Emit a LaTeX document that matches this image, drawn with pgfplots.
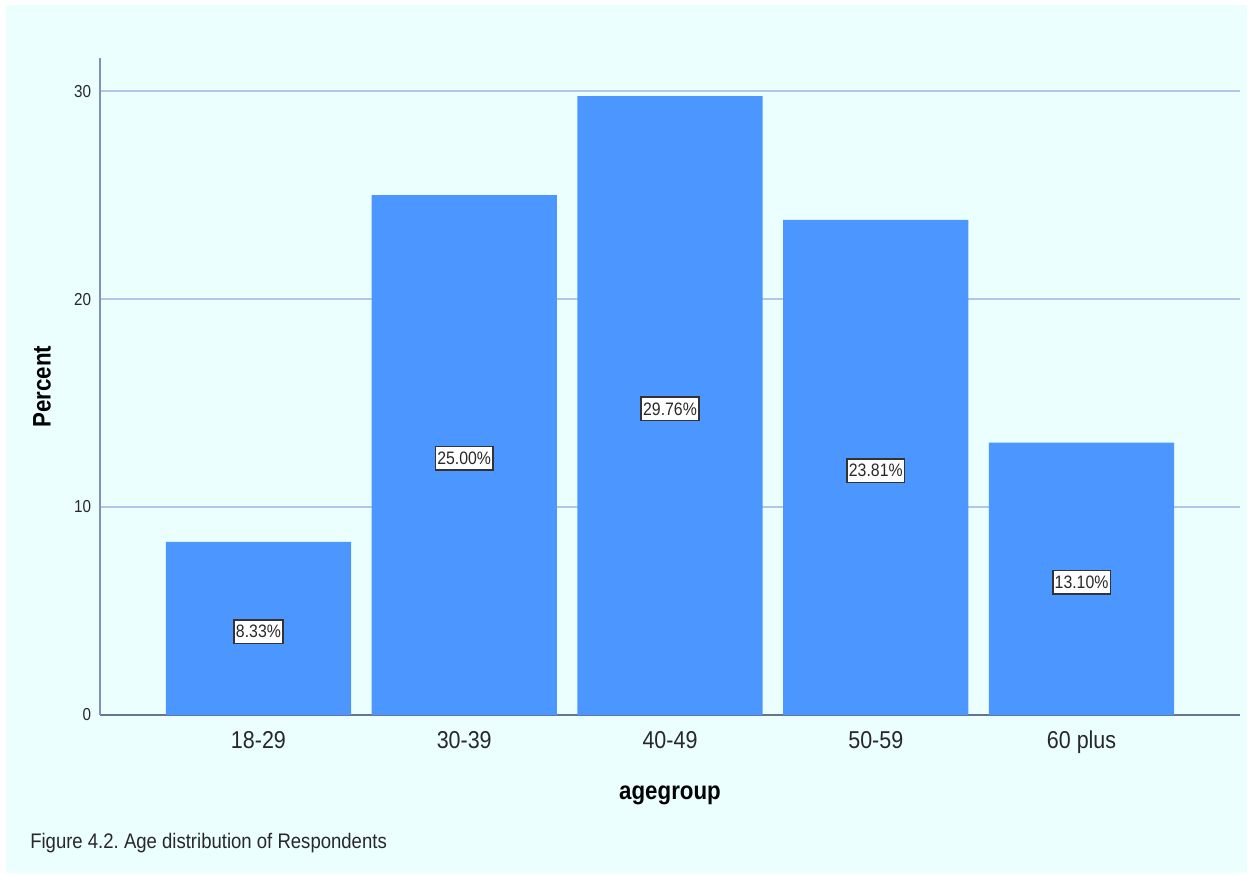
\documentclass[border=0pt]{standalone}
\usepackage{pgfplots}
\pgfplotsset{compat=1.18}
\usepackage{pgfplotstable}
\usepackage{fontspec}
\setmainfont[FakeStretch=0.88]{Liberation Sans}
\frenchspacing
\definecolor{bgc}{RGB}{236,255,255}
\definecolor{barc}{RGB}{75,151,255}
\definecolor{gridc}{RGB}{182,196,232}
\definecolor{axc}{RGB}{130,144,184}
\definecolor{labc}{RGB}{40,40,40}
\pgfplotstableread{
x y
0 8.33
1 25.00
2 29.76
3 23.81
4 13.10
}\agedata
\begin{document}
\begin{tikzpicture}[x=0.75pt,y=0.75pt]
\fill[white] (0,0) rectangle (1252,875);
\fill[bgc] (6,2) rectangle (1247,870);
\begin{axis}[
  at={(75pt,120pt)}, anchor=south west,
  scale only axis,
  width=855pt, height=492.75pt,
  xmin=-0.77, xmax=4.77, ymin=0, ymax=31.59,
  /pgf/number format/assume math mode=true,
  axis x line=bottom, axis y line=left,
  axis line style={draw=axc, line width=1.2pt, -},
  x axis line style={draw=axc!80!black},
  major tick length=0pt,
  xtick={0,1,2,3,4},
  xticklabels={18-29,30-39,40-49,50-59,60 plus},
  ytick={0,10,20,30},
  ymajorgrids,
  grid style={gridc, line width=1.2pt},
  xticklabel style={font=\fontsize{18.3}{20}\selectfont, text=labc, inner sep=0pt, anchor=north, yshift=-12pt},
  yticklabel style={font=\fontsize{13}{15}\selectfont, text=labc, inner sep=0pt, anchor=east, xshift=-6.5pt},
  xlabel={agegroup},
  ylabel={Percent},
  xlabel style={font=\fontsize{19}{21}\selectfont\bfseries, at={(axis description cs:0.5,0)}, anchor=center, yshift=-60pt},
  ylabel style={font=\fontsize{19}{21}\selectfont\bfseries, at={(axis description cs:-0.0509,0.5)}, anchor=center},
  clip=false,
]
\addplot[ybar, bar width=0.9, fill=barc, draw=none] table[x=x, y=y] {\agedata};
\addplot[only marks, mark=none, point meta=explicit,
  nodes near coords={\pgfmathprintnumber[fixed,fixed zerofill,precision=2,assume math mode=true]{\pgfplotspointmeta}\%},
  every node near coord/.style={anchor=center, yshift=-2.5pt, fill=white, draw=black!80, line width=1.2pt, inner xsep=1.5pt, inner ysep=4pt, font=\fontsize{13.5}{15}\selectfont, text=labc}
] table[x=x, y expr=\thisrow{y}/2, meta=y] {\agedata};
\end{axis}
\node[anchor=west, font=\fontsize{15.8}{18}\selectfont, text=labc, inner sep=0pt] at (30,32) {Figure 4.2. Age distribution of Respondents};
\end{tikzpicture}
\end{document}
